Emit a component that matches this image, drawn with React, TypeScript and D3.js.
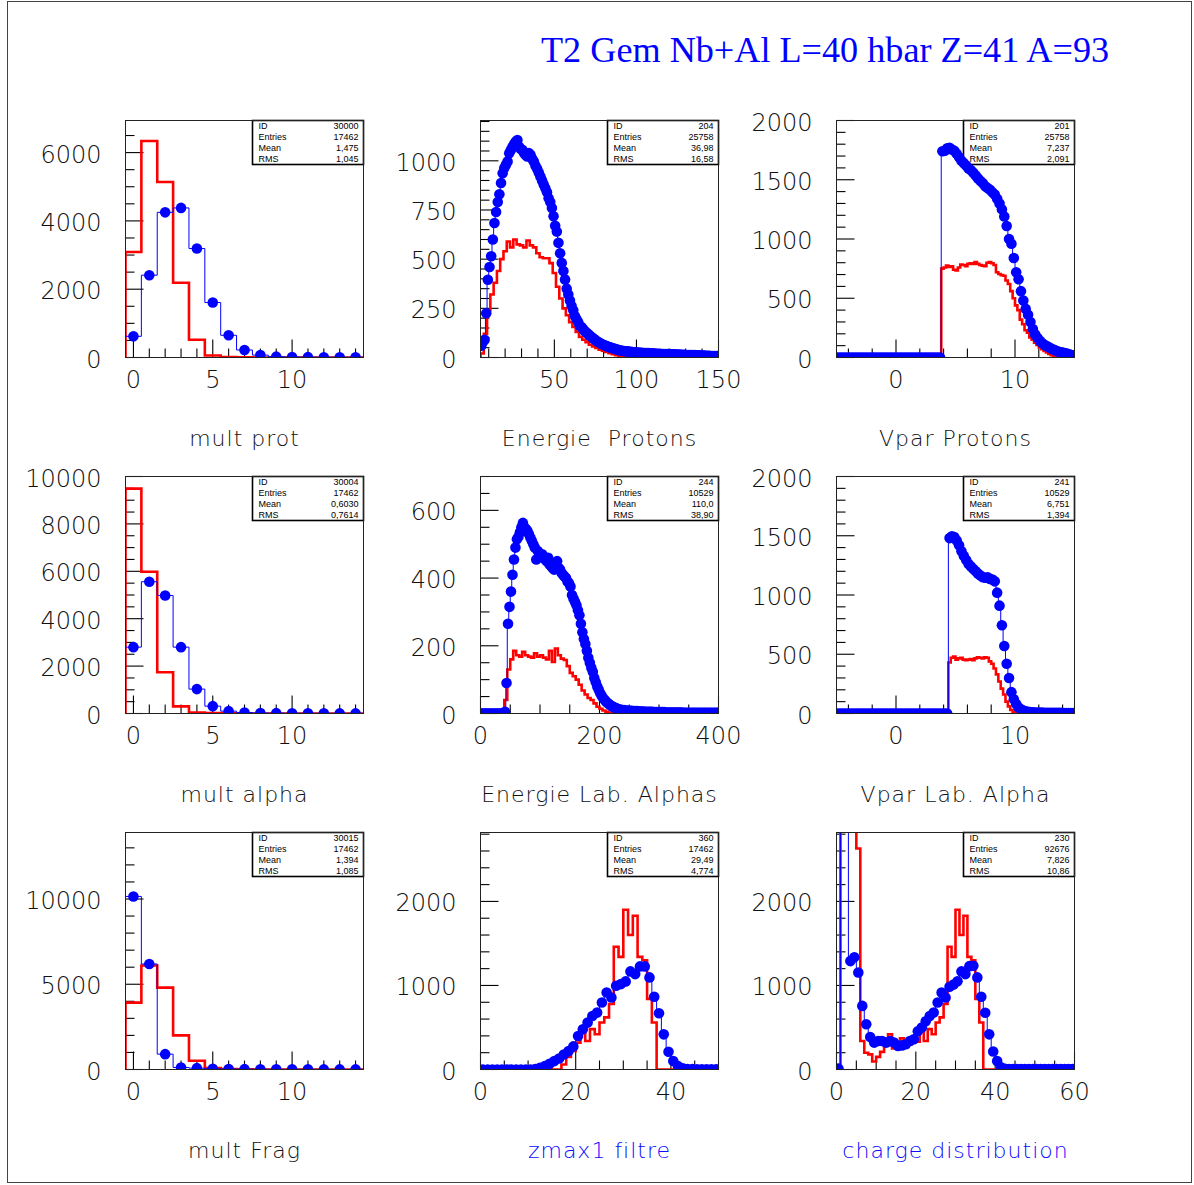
import React from 'react';
import * as d3 from 'd3';

// ---------------- data ----------------
const mainTitle = 'T2 Gem Nb+Al L=40 hbar Z=41 A=93';
const statNames = ['ID', 'Entries', 'Mean', 'RMS'];

// mult prot (bins of 1, from -0.5)
const multProtBlue = [620, 2410, 4250, 4380, 3190, 1610, 650, 220, 70, 25, 15, 10, 8, 6, 5];
const multProtRed = [3090, 6340, 5140, 2190, 520, 60, 10, 5, 0, 0, 0, 0, 0, 0, 0];
const multProtStats = ['30000', '17462', '1,475', '1,045'];
const multProtXLabels = [0, 5, 10];
const multProtYLabels = [0, 2000, 4000, 6000];

// Energie Protons (blue: bins of 1 from 5; red: bins of 2 from 5)
const eProtBlue = [60, 80, 90, 225, 395, 460, 515, 600, 684, 740,
  790, 830, 887, 937, 963, 980, 997, 1039, 1055, 1072,
  1085, 1098, 1106, 1072, 1060, 1056, 1040, 1030, 1022, 1039,
  1030, 1010, 997, 975, 960, 940, 920, 900, 880, 860,
  840, 810, 790, 760, 718, 670, 640, 583, 530, 481,
  440, 397, 350, 320, 290, 262, 240, 211, 195, 180,
  162, 155, 145, 135, 127, 120, 112, 105, 98, 93,
  85, 80, 75, 70, 66, 62, 59, 56, 53, 50,
  47, 45, 42, 40, 37, 35, 34, 33, 32, 31,
  30, 29, 28, 27, 26,
  25, 25, 24, 24, 23, 23, 22, 22, 21, 21,
  20, 20, 19, 19, 19, 18, 18, 18, 17, 17,
  17, 16, 16, 16, 15, 15, 15, 14, 14, 14,
  13, 13, 13, 12, 12, 12, 11, 11, 11, 10,
  10, 10, 9, 9, 9, 8, 8, 8, 7, 7];
const eProtRed = [20, 120, 240, 320, 380, 440, 500, 540, 590, 560,
  600, 575, 570, 560, 595, 570, 560, 530, 510, 505,
  505, 480, 430, 360, 300, 250, 215, 180, 155, 130,
  105, 90, 78, 65, 56, 48, 40, 34, 28, 22,
  17, 12, 8, 6, 4, 3, 2, 2, 1, 1,
  1, 1, 0, 0, 0, 0, 0, 0, 0, 0,
  0, 0, 0, 0, 0, 0, 0, 0, 0, 0,
  0, 0, 0];
const eProtStats = ['204', '25758', '36,98', '16,58'];
const eProtXLabels = [50, 100, 150];
const eProtYLabels = [0, 250, 500, 750, 1000];

// Vpar Protons (bins of 0.2, from -5)
const vProtBlue = [0, 0, 0, 0, 0, 0, 0, 0, 0, 0,
  0, 0, 0, 0, 0, 0, 0, 0, 0, 0,
  0, 0, 0, 0, 0, 0, 0, 0, 0, 0,
  0, 0, 0, 0, 0, 0, 0, 0, 0, 0,
  0, 0, 0, 0,
  1740, 1745, 1765, 1770, 1755, 1745, 1720, 1690, 1660, 1640,
  1620, 1595, 1580, 1560, 1535, 1510, 1490, 1470, 1445, 1430,
  1415, 1395, 1375, 1340, 1300, 1250, 1190, 1110, 1000, 960,
  840, 720, 660, 560, 480, 410, 360, 300, 240, 195,
  165, 140, 120, 105, 95, 85, 72, 65, 55, 48,
  44, 40, 36, 30, 22, 18];
const vProtRed = [0, 0, 0, 0, 0, 0, 0, 0, 0, 0,
  0, 0, 0, 0, 0, 0, 0, 0, 0, 0,
  0, 0, 0, 0, 0, 0, 0, 0, 0, 0,
  0, 0, 0, 0, 0, 0, 0, 0, 0, 0,
  0, 0, 0, 0,
  750, 760, 775, 765, 770, 740, 735, 760, 785, 780,
  770, 790, 795, 790, 805, 790, 780, 775, 770, 800,
  805, 795, 780, 720, 705, 695, 690, 650, 620, 560,
  500, 440, 400, 320, 280, 230, 210, 170, 150, 125,
  105, 85, 70, 55, 42, 30, 20, 14, 8, 5,
  3, 2, 1, 0, 0, 0];
const vProtStats = ['201', '25758', '7,237', '2,091'];
const vXLabels = [0, 10];
const vYLabels = [0, 500, 1000, 1500, 2000];

// mult alpha
const multAlphaBlue = [2800, 5560, 4980, 2800, 1030, 310, 100, 40, 20, 15, 10, 8, 6, 5, 5];
const multAlphaRed = [9490, 5980, 1740, 300, 40, 15, 5, 0, 0, 0, 0, 0, 0, 0, 0];
const multAlphaStats = ['30004', '17462', '0,6030', '0,7614'];
const multAlphaYLabels = [0, 2000, 4000, 6000, 8000, 10000];

// Energie Lab. Alphas (blue: bins of 2.5 from 0; red: bins of 5 from 0)
const eAlphaBlue = [0, 0, 0, 0, 0, 0, 0, 0, 0, 0,
  0, 0, 0, 0, 0, 0, 5, 90, 265, 315,
  360, 410, 455, 490, 515, 522, 535, 550, 563, 550,
  545, 540, 530, 520, 510, 500, 490, 455, 480, 470,
  465, 470, 460, 455, 450, 460, 440, 435, 430, 425,
  445, 450, 430, 425, 415, 410, 405, 400, 390, 385,
  375, 350, 340, 330, 320, 305, 290, 265, 240, 220,
  205, 185, 165, 150, 135, 123, 105, 92, 80, 70,
  60, 52, 45, 40, 35, 31, 27, 24, 21, 19,
  17, 15, 13, 12, 11, 10, 10, 9, 9, 8,
  8, 8, 7, 7, 7, 7, 6, 6, 6, 6,
  5, 5, 5, 5, 5, 5, 4, 4, 4, 4,
  4, 4, 4, 4, 3, 3, 3, 3, 3, 3,
  3, 3, 3, 3, 3, 3, 2, 2, 2, 2,
  2, 2, 2, 2, 2, 2, 2, 2, 2, 2,
  2, 2, 2, 2, 2, 2, 2, 2, 2, 2];
const eAlphaRed = [0, 0, 0, 0, 0, 0, 0, 0, 40, 130,
  160, 185, 172, 168, 182, 172, 168, 165, 178, 168,
  172, 165, 160, 185, 152, 192, 172, 162, 158, 140,
  120, 110, 100, 85, 68, 56, 46, 40, 30, 20,
  14, 9, 5, 2, 0, 0, 0, 0, 0, 0,
  0, 0, 0, 0, 0, 0, 0, 0, 0, 0,
  0, 0, 0, 0, 0, 0, 0, 0, 0, 0,
  0, 0, 0, 0, 0, 0, 0, 0, 0, 0];
const eAlphaStats = ['244', '10529', '110,0', '38,90'];
const eAlphaXLabels = [0, 200, 400];
const eAlphaYLabels = [0, 200, 400, 600];

// Vpar Lab. Alpha (bins of 0.2, from -5)
const vAlphaBlue = [0, 0, 0, 0, 0, 0, 0, 0, 0, 0,
  0, 0, 0, 0, 0, 0, 0, 0, 0, 0,
  0, 0, 0, 0, 0, 0, 0, 0, 0, 0,
  0, 0, 0, 0, 0, 0, 0, 0, 0, 0,
  0, 0, 0, 0, 0, 0, 0,
  1480, 1495, 1490, 1460, 1420, 1370, 1330, 1295, 1262, 1240,
  1220, 1200, 1180, 1165, 1150, 1145, 1150, 1135, 1130, 1115,
  1020, 910, 745, 570, 420, 300, 180, 120, 80, 50,
  35, 25, 18, 14, 12, 10, 9, 8, 7, 7,
  6, 6, 6, 5, 5, 5, 5, 5, 4, 4,
  4, 4, 4];
const vAlphaRed = [0, 0, 0, 0, 0, 0, 0, 0, 0, 0,
  0, 0, 0, 0, 0, 0, 0, 0, 0, 0,
  0, 0, 0, 0, 0, 0, 0, 0, 0, 0,
  0, 0, 0, 0, 0, 0, 0, 0, 0, 0,
  0, 0, 0, 0, 0, 0, 0,
  430, 470, 480, 455, 465, 470, 455, 450, 455, 460,
  450, 465, 475, 470, 465, 475, 470, 440, 420, 380,
  330, 270, 210, 160, 100, 60, 30, 10, 3, 0,
  0, 0, 0, 0, 0, 0, 0, 0, 0, 0,
  0, 0, 0, 0, 0, 0, 0, 0, 0, 0,
  0, 0, 0];
const vAlphaStats = ['241', '10529', '6,751', '1,394'];

// mult Frag
const multFragBlue = [10150, 6190, 900, 120, 80, 40, 30, 20, 15, 10, 10, 8, 6, 5, 5];
const multFragRed = [3920, 6100, 4800, 2000, 510, 80, 30, 10, 0, 0, 0, 0, 0, 0, 0];
const multFragStats = ['30015', '17462', '1,394', '1,085'];
const multFragYLabels = [0, 5000, 10000];

// zmax1 filtre (bins of 1, from 0)
const zmaxBlue = [0, 0, 0, 0, 0, 0, 0, 0, 0, 0,
  0, 5, 20, 40, 68, 100, 131, 179, 219, 275,
  398, 478, 558, 637, 677, 797, 916, 857, 996, 1016,
  1048, 1167, 1135, 1227, 1227, 1096, 865, 669, 418, 211,
  100, 40, 15, 5, 4, 3, 3, 2, 2, 2];
const zmaxRed = [0, 0, 0, 0, 0, 0, 0, 0, 0, 0,
  0, 0, 0, 0, 0, 0, 0, 60, 150, 220,
  320, 500, 340, 480, 420, 560, 620, 780, 1460, 1340,
  1900, 1600, 1830, 1340, 1300, 840, 560, 0, 0, 0,
  0, 0, 0, 0, 0, 0, 0, 0, 0, 0];
const zmaxStats = ['360', '17462', '29,49', '4,774'];
const zmaxXLabels = [0, 20, 40];
const zYLabels = [0, 1000, 2000];

// charge distribution (bins of 1, from 0)
const chargeBlue = [10, 12000, 4000, 1290, 1335, 1155, 757, 538, 386, 320,
  339, 339, 320, 339, 320, 280, 287, 300, 339, 360,
  455, 500, 575, 637, 677, 797, 916, 857, 985, 1010,
  1050, 1167, 1135, 1230, 1235, 1096, 865, 675, 418, 215,
  100, 25, 8, 6, 5, 5, 5, 5, 4, 4,
  4, 4, 4, 4, 4, 4, 4, 4, 4, 4];
const chargeRed = [0, 20000, 9000, 5000, 3500, 2630, 340, 200, 180, 95,
  150, 210, 280, 420, 250, 260, 370, 320, 300, 330,
  330, 500, 340, 480, 420, 560, 620, 780, 1460, 1340,
  1900, 1600, 1830, 1340, 1300, 840, 560, 0, 0, 0,
  0, 0, 0, 0, 0, 0, 0, 0, 0, 0,
  0, 0, 0, 0, 0, 0, 0, 0, 0, 0];
const chargeStats = ['230', '92676', '7,826', '10,86'];
const chargeXLabels = [0, 20, 40, 60];

// ---------------- layout ----------------
const COLS = [125.5, 480.5, 836.5];
const ROWS = [120.5, 476.5, 832.5];
const PW = 238;
const PH = 237;
const BLUE = '#0000ff';
const RED = '#ff0000';
const TICK_FONT = '"DejaVu Sans", sans-serif';
const DARK = '#111';
const TITLE_BLUE = '#0a0aff';

type Panel = {
  title: string; titleColor: string;
  blue: number[]; red: number[]; lo: number; bw: number; redLo: number; redBw: number;
  xDomain: [number, number]; yMax: number; xMinor: number; yMinor: number;
  xLabels: number[]; yLabels: number[]; stats: string[];
};

const multCfg = { lo: -0.5, bw: 1, redLo: -0.5, redBw: 1, xDomain: [-0.5, 14.5] as [number, number], xMinor: 1, xLabels: multProtXLabels };
const vCfg = { lo: -5, bw: 0.2, redLo: -5, redBw: 0.2, xDomain: [-5, 15] as [number, number], xMinor: 2, xLabels: vXLabels, yMax: 2000, yMinor: 100, yLabels: vYLabels };

const panels: Panel[] = [
  { title: 'mult prot', titleColor: DARK, blue: multProtBlue, red: multProtRed, ...multCfg, yMax: 6940, yMinor: 500, yLabels: multProtYLabels, stats: multProtStats },
  { title: 'Energie  Protons', titleColor: DARK, blue: eProtBlue, red: eProtRed, lo: 5, bw: 1, redLo: 5, redBw: 2, xDomain: [5, 150], xMinor: 10, xLabels: eProtXLabels, yMax: 1205, yMinor: 50, yLabels: eProtYLabels, stats: eProtStats },
  { title: 'Vpar Protons', titleColor: DARK, blue: vProtBlue, red: vProtRed, ...vCfg, stats: vProtStats },
  { title: 'mult alpha', titleColor: DARK, blue: multAlphaBlue, red: multAlphaRed, ...multCfg, yMax: 10000, yMinor: 500, yLabels: multAlphaYLabels, stats: multAlphaStats },
  { title: 'Energie Lab. Alphas', titleColor: DARK, blue: eAlphaBlue, red: eAlphaRed, lo: 0, bw: 2.5, redLo: 0, redBw: 5, xDomain: [0, 400], xMinor: 50, xLabels: eAlphaXLabels, yMax: 700, yMinor: 50, yLabels: eAlphaYLabels, stats: eAlphaStats },
  { title: 'Vpar Lab. Alpha', titleColor: DARK, blue: vAlphaBlue, red: vAlphaRed, ...vCfg, stats: vAlphaStats },
  { title: 'mult Frag', titleColor: DARK, blue: multFragBlue, red: multFragRed, ...multCfg, yMax: 13900, yMinor: 1000, yLabels: multFragYLabels, stats: multFragStats },
  { title: 'zmax1 filtre', titleColor: TITLE_BLUE, blue: zmaxBlue, red: zmaxRed, lo: 0, bw: 1, redLo: 0, redBw: 1, xDomain: [0, 50], xMinor: 5, xLabels: zmaxXLabels, yMax: 2820, yMinor: 200, yLabels: zYLabels, stats: zmaxStats },
  { title: 'charge distribution', titleColor: TITLE_BLUE, blue: chargeBlue, red: chargeRed, lo: 0, bw: 1, redLo: 0, redBw: 1, xDomain: [0, 60], xMinor: 5, xLabels: chargeXLabels, yMax: 2820, yMinor: 200, yLabels: zYLabels, stats: chargeStats },
];

function stepPath(vals: number[], lo: number, bw: number, x: d3.ScaleLinear<number, number>, y: d3.ScaleLinear<number, number>) {
  let d = `M${x(lo)},${y(0)}`;
  vals.forEach((v, i) => {
    d += `V${y(v)}H${x(lo + (i + 1) * bw)}`;
  });
  d += `V${y(0)}`;
  return d;
}

function near(a: number, list: number[]) {
  return list.some((b) => Math.abs(a - b) < 1e-6);
}

function HistPanel({ p, idx }: { p: Panel; idx: number }) {
  const x0 = COLS[idx % 3];
  const y0 = ROWS[Math.floor(idx / 3)];
  const x = d3.scaleLinear().domain(p.xDomain).range([x0, x0 + PW]);
  const y = d3.scaleLinear().domain([0, p.yMax]).range([y0 + PH, y0]);
  const clipId = `clip${idx}`;
  const xt = d3.range(Math.ceil(p.xDomain[0] / p.xMinor - 1e-9) * p.xMinor, p.xDomain[1] + 1e-9, p.xMinor);
  const yt = d3.range(0, p.yMax + 1e-9, p.yMinor);
  const bx = x0 + PW - 111;
  return (
    <g>
      <defs>
        <clipPath id={clipId}>
          <rect x={x0} y={y0} width={PW} height={PH} />
        </clipPath>
      </defs>
      {/* ticks */}
      <g stroke="#000" strokeWidth={1.1}>
        {yt.map((v) => {
          const L = near(v, p.yLabels) ? 18 : 9;
          return <line key={'y' + v} x1={x0} x2={x0 + L} y1={y(v)} y2={y(v)} />;
        })}
        {xt.map((v) => {
          const L = near(v, p.xLabels) ? 18 : 9;
          return <line key={'x' + v} x1={x(v)} x2={x(v)} y1={y0 + PH} y2={y0 + PH - L} />;
        })}
      </g>
      {/* stats box */}
      <rect x={bx} y={y0} width={111} height={44} fill="#fff" stroke="#000" strokeWidth={1.6} />
      {statNames.map((n, i) => (
        <g key={n} fontFamily='"Liberation Sans", Arial, sans-serif' fontSize={9} fill="#000">
          <text x={bx + 6} y={y0 + 8.5 + i * 11}>{n}</text>
          <text x={x0 + PW - 5} y={y0 + 8.5 + i * 11} textAnchor="end">{p.stats[i]}</text>
        </g>
      ))}
      <g clipPath={`url(#${clipId})`}>
        <path d={stepPath(p.red, p.redLo, p.redBw, x, y)} fill="none" stroke={RED} strokeWidth={2.6} />
        <path d={stepPath(p.blue, p.lo, p.bw, x, y)} fill="none" stroke={BLUE} strokeWidth={1} />
        {p.blue.map((v, i) => (
          <circle key={i} cx={x(p.lo + (i + 0.5) * p.bw)} cy={y(v)} r={5.3} fill={BLUE} />
        ))}
      </g>
      {/* frame */}
      <rect x={x0} y={y0} width={PW} height={PH} fill="none" stroke="#222" strokeWidth={1} />
      {/* tick labels */}
      <g fontFamily={TICK_FONT} fontSize={24} fontWeight={200} fill={DARK}>
        {p.yLabels.map((v) => (
          <text key={'yl' + v} x={x0 - 24} y={y(v) + 10} textAnchor="end">{v}</text>
        ))}
        {p.xLabels.map((v) => (
          <text key={'xl' + v} x={x(v)} y={y0 + PH + 30.5} textAnchor="middle">{v}</text>
        ))}
      </g>
      <text x={x0 + PW / 2} y={y0 + PH + 88} textAnchor="middle" fontFamily={TICK_FONT} fontSize={22}
        fontWeight={200} letterSpacing={1} fill={p.titleColor} style={{ whiteSpace: 'pre' }}>{p.title}</text>
    </g>
  );
}

export default function App() {
  return (
    <svg width={1194} height={1185} style={{ position: 'absolute', left: 0, top: 0, background: '#fff' }}>
      <rect x={0} y={0} width={1194} height={1185} fill="#fff" />
      <rect x={7.5} y={1.5} width={1184} height={1181} fill="none" stroke="#444" strokeWidth={1} />
      <text x={541} y={62} fontFamily='"Liberation Serif", "Times New Roman", serif' fontSize={36.2} fill="#0000ff">{mainTitle}</text>
      {panels.map((p, i) => <HistPanel key={i} p={p} idx={i} />)}
    </svg>
  );
}
